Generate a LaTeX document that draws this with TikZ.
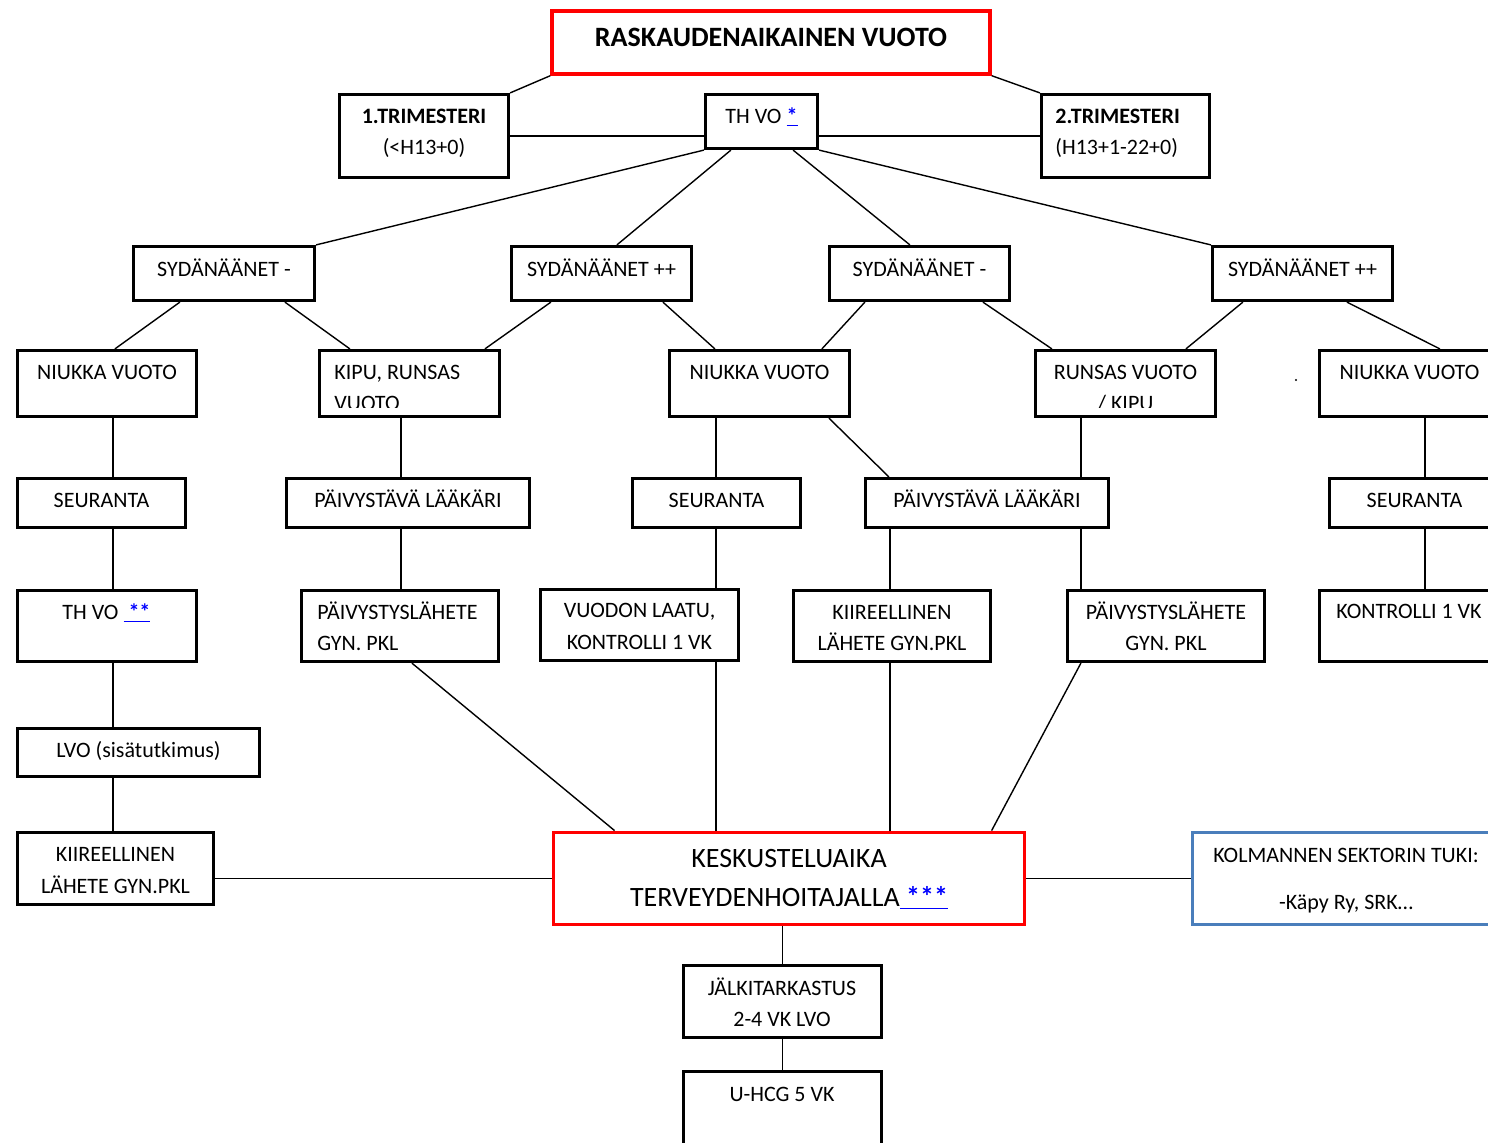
\documentclass[tikz,border=0pt]{standalone}
\usepackage{fontspec}
\setmainfont{Carlito}
\usetikzlibrary{calc}
\definecolor{lb}{RGB}{0,0,255}
\definecolor{kolblue}{RGB}{74,126,187}
\definecolor{bred}{RGB}{255,0,0}
\newcommand\lnk[1]{\textcolor{lb}{\underline{\bfseries #1}}}
\newcommand\mybox[6][]{\node[box,#1,minimum width={(#5-#3-2.6)*0.5},minimum height={(#6-#4-2.6)*0.5}] (#2) at ({(#3+#5)/2},{(#4+#6)/2}) {};}
\newcommand\vlink[3]{\draw[ln] ($(#1.south west)+(#2,0)$) coordinate (vt) -- (vt |- #3.north);}
\tikzset{
  box/.style={draw=black, line width=1.4pt, fill=white, inner sep=0pt, rectangle},
  redbox/.style={draw=bred, line width=1.7pt},
  ln/.style={line width=0.7pt, draw=black},
  tx/.style={inner sep=0pt, anchor=base, font=\fontsize{11}{13}\selectfont},
  txl/.style={tx, anchor=base west},
  big/.style={font=\fontsize{14}{17}\selectfont},
}
\begin{document}
\begin{tikzpicture}[x=0.5pt,y=-0.5pt]
\useasboundingbox (0,0) rectangle (1488,1142);
\clip (0,0) rectangle (1488,1142);
\fill[white] (0,0) rectangle (1488,1142);
% boxes
\mybox[redbox,line width=2pt]{title}{551}{10}{991}{75}
\mybox{tri1}{338}{93}{510}{179}
\mybox{thvo}{704}{93}{819}{150}
\mybox{tri2}{1040}{93}{1211}{179}
\mybox{sa}{132}{245}{316}{302}
\mybox{sb}{510}{245}{693}{302}
\mybox{sc}{828}{245}{1011}{302}
\mybox{sd}{1211}{245}{1394}{302}
\mybox{n1}{16}{349}{198}{418}
\mybox{k}{318}{349}{501}{418}
\mybox{n2}{668}{349}{851}{418}
\mybox{r}{1034}{349}{1217}{418}
\mybox{n3}{1318}{349}{1501}{418}
\mybox{s1}{16}{477}{187}{529}
\mybox{p1}{285}{477}{531}{529}
\mybox{s2}{631}{477}{802}{529}
\mybox{p2}{864}{477}{1110}{529}
\mybox{s3}{1328}{477}{1501}{529}
\mybox{t1}{16}{589}{198}{663}
\mybox{pl1}{300}{589}{500}{663}
\mybox{v}{539}{588}{740}{662}
\mybox{kl}{792}{589}{992}{663}
\mybox{pl2}{1066}{589}{1266}{663}
\mybox{k1}{1318}{589}{1500}{663}
\mybox{lvo}{16}{727}{261}{778}
\mybox{kl2}{16}{831}{215}{906}
\mybox[redbox]{kesk}{552}{831}{1026}{926}
\mybox[draw=kolblue]{kol}{1191}{831}{1501}{926}
\mybox{jalk}{682}{964}{883}{1039}
\mybox{uhcg}{682}{1070}{883}{1160}
% connectors
\draw[ln] (title.south west) -- (tri1.north east);
\draw[ln] (title.south east) -- (tri2.north west);
\draw[ln] (tri1.east) -- (tri1.east -| thvo.west);
\draw[ln] (thvo.east |- tri2.west) -- (tri2.west);
\draw[ln] (thvo.south west) -- (sa.north east);
\draw[ln] ($(thvo.south west)+(27,0)$) -- ($(sb.north west)+(107,0)$);
\draw[ln] ($(thvo.south east)+(-26,0)$) -- ($(sc.north west)+(82,0)$);
\draw[ln] (thvo.south east) -- (sd.north west);
\draw[ln] ($(sa.south west)+(48,0)$) -- ($(n1.north west)+(99,0)$);
\draw[ln] ($(sa.south west)+(153,0)$) -- ($(k.north west)+(32,0)$);
\draw[ln] ($(sb.south west)+(41,0)$) -- ($(k.north west)+(167,0)$);
\draw[ln] ($(sb.south west)+(153,0)$) -- ($(n2.north west)+(47,0)$);
\draw[ln] ($(sc.south west)+(37,0)$) -- ($(n2.north west)+(154,0)$);
\draw[ln] ($(sc.south west)+(155,0)$) -- ($(r.north west)+(18,0)$);
\draw[ln] ($(sd.south west)+(32,0)$) -- ($(r.north west)+(152,0)$);
\draw[ln] ($(sd.south west)+(136,0)$) -- ($(n3.north west)+(122,0)$);
\vlink{n1}{97}{s1}
\vlink{k}{83}{p1}
\vlink{n2}{48}{s2}
\draw[ln] ($(n2.south west)+(161,0)$) -- ($(p2.north west)+(25,0)$);
\vlink{r}{47}{p2}
\vlink{n3}{107}{s3}
\vlink{s1}{97}{t1}
\vlink{p1}{116}{pl1}
\vlink{s2}{85}{v}
\vlink{p2}{26}{kl}
\vlink{p2}{217}{pl2}
\vlink{s3}{97}{k1}
\vlink{t1}{97}{lvo}
\vlink{lvo}{97}{kl2}
\draw[ln] ($(pl1.south west)+(112,0)$) -- ($(kesk.north west)+(63,0)$);
\vlink{v}{177}{kesk}
\vlink{kl}{98}{kesk}
\draw[ln] ($(pl2.south west)+(15,0)$) -- ($(kesk.north west)+(440,0)$);
\draw[ln] (kesk.west -| kl2.east) -- (kesk.west);
\draw[ln] (kesk.east) -- (kol.west);
\draw[ln] (jalk.north |- kesk.south) -- (jalk.north);
\draw[ln] (jalk.south) -- (uhcg.north);
\fill (1296,380) circle [radius=0.6pt];
% texts
\node[tx,font=\fontsize{14}{17}\selectfont\bfseries] (tt) at (771,46) {RASKAUDENAIKAINEN VUOTO};
\node[tx,font=\fontsize{11}{13}\selectfont\bfseries] (tr1a) at (424,123) {1.TRIMESTERI};
\node[tx] (tr1b) at (424,154) {(<H13+0)};
\node[txl] (tth) at (725,123) {TH VO \lnk{*}};
\node[txl,font=\fontsize{11}{13}\selectfont\bfseries] (tr2a) at (1055,123) {2.TRIMESTERI};
\node[txl] (tr2b) at (1055,154) {(H13+1-22+0)};
\node[tx] (tsa) at (224,276) {SYDÄNÄÄNET -};
\node[tx] (tsb) at (601.5,276) {SYDÄNÄÄNET ++};
\node[tx] (tsc) at (919.5,276) {SYDÄNÄÄNET -};
\node[tx] (tsd) at (1302.5,276) {SYDÄNÄÄNET ++};
\node[tx] (tn1) at (107,379) {NIUKKA VUOTO};
\node[txl] (tka) at (334,379) {KIPU, RUNSAS};
\begin{scope}
\clip ($(k.south west)+(0,-11)$) rectangle (k.north east);
\node[txl] (tkb) at (334,410) {VUOTO};
\end{scope}
\node[tx] (tn2) at (759.5,379) {NIUKKA VUOTO};
\node[tx] (tra) at (1125.5,379) {RUNSAS VUOTO};
\begin{scope}
\clip ($(r.south west)+(0,-11)$) rectangle (r.north east);
\node[tx] (trb) at (1125.5,410) {/ KIPU};
\end{scope}
\node[tx] (tn3) at (1409.5,379) {NIUKKA VUOTO};
\node[tx] (ts1) at (101.5,507) {SEURANTA};
\node[tx] (tp1) at (408,507) {PÄIVYSTÄVÄ LÄÄKÄRI};
\node[tx] (ts2) at (716.5,507) {SEURANTA};
\node[tx] (tp2) at (987,507) {PÄIVYSTÄVÄ LÄÄKÄRI};
\node[tx] (ts3) at (1414.5,507) {SEURANTA};
\node[txl] (tt1) at (62,619) {TH VO \lnk{\ **}};
\node[txl] (tpl1a) at (317,619) {PÄIVYSTYSLÄHETE};
\node[txl] (tpl1b) at (317,650) {GYN. PKL};
\node[tx] (tva) at (639.5,617) {VUODON LAATU,};
\node[tx] (tvb) at (639.5,649) {KONTROLLI 1 VK};
\node[tx] (tkla) at (892,619) {KIIREELLINEN};
\node[tx] (tklb) at (892,650) {LÄHETE GYN.PKL};
\node[tx] (tpl2a) at (1166,619) {PÄIVYSTYSLÄHETE};
\node[tx] (tpl2b) at (1166,650) {GYN. PKL};
\node[tx] (tk1) at (1409,618) {KONTROLLI 1 VK};
\node[tx] (tlvo) at (138.5,757) {LVO (sisätutkimus)};
\node[tx] (tkl2a) at (115.5,861) {KIIREELLINEN};
\node[tx] (tkl2b) at (115.5,893) {LÄHETE GYN.PKL};
\node[tx,big] (tkea) at (789,867) {KESKUSTELUAIKA};
\node[tx,big] (tkeb) at (789,906) {TERVEYDENHOITAJALLA\lnk{\ ***}};
\node[tx] (tkoa) at (1346,862) {KOLMANNEN SEKTORIN TUKI:};
\node[tx] (tkob) at (1346,909) {-Käpy Ry, SRK…};
\node[tx] (tja) at (782,995) {JÄLKITARKASTUS};
\node[tx] (tjb) at (782,1026) {2-4 VK LVO};
\node[tx] (tu) at (782,1101) {U-HCG 5 VK};
\end{tikzpicture}
\end{document}
